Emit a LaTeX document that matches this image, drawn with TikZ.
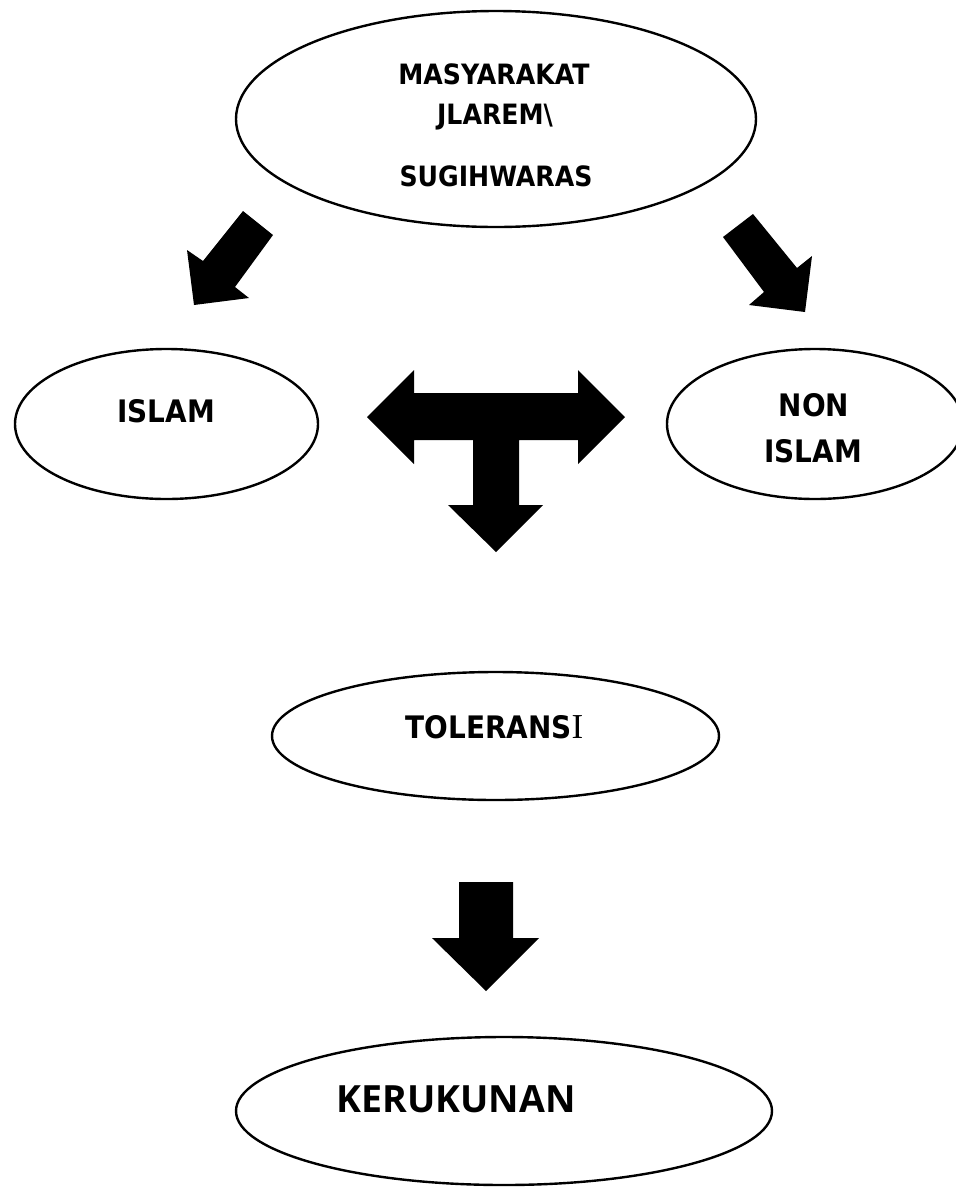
\documentclass[tikz,border=0pt]{standalone}
\usepackage{fontspec}
\newfontfamily\tahfont[FakeStretch=0.9]{DejaVu Sans}
\newfontfamily\opfont{Open Sans}
\newfontfamily\serfont{Liberation Serif}
\usetikzlibrary{shapes.geometric}
\tikzset{
    oval/.style={draw, ellipse, line width=2.4pt, inner sep=0pt},
    teks/.style={anchor=base, inner sep=0pt, font=\tahfont\bfseries\fontsize{31}{36}\selectfont},
    panah/.style={fill=black, draw=none}
}
\begin{document}
\begin{tikzpicture}[x=1pt, y=-1pt]
    \useasboundingbox (0,0) rectangle (956,1187);

    % 1. Elips
    \node[oval, minimum width=520pt, minimum height=216pt] (masy) at (496,119) {};
    \node[oval, minimum width=303pt, minimum height=150pt] (islam) at (166.5,424) {};
    \node[oval, minimum width=296pt, minimum height=150pt] (non) at (815,424) {};
    \node[oval, minimum width=447pt, minimum height=128pt] (tol) at (495.5,736) {};
    \node[oval, minimum width=536pt, minimum height=148pt] (keru) at (504,1111) {};

    % 2. Teks
    \node[teks, font=\tahfont\bfseries\fontsize{28}{34}\selectfont] (masy1) at (494,84) {MASYARAKAT};
    \node[teks, font=\tahfont\bfseries\fontsize{28}{34}\selectfont] (masy2) at (495,124) {JLAREM\textbackslash};
    \node[teks, font=\tahfont\bfseries\fontsize{28}{34}\selectfont] (masy3) at (496,186) {SUGIHWARAS};
    \node[teks] (islamt) at (166,422) {ISLAM};
    \node[teks] (nont1) at (814,416) {NON};
    \node[teks] (nont2) at (813,462) {ISLAM};
    \node[teks] (tolt) at (494.5,738) {TOLERANS{\serfont\mdseries\fontsize{35}{40}\selectfont I}};
    \node[teks, font=\opfont\bfseries\fontsize{37.5}{44}\selectfont] (kerut) at (456,1112) {KERUKUNAN};

    % 3. Panah miring
    \fill[panah] (243,211) -- (273,235) -- (235,287) -- (249,298) -- (194,305)
        -- (187,250) -- (203,261) -- cycle;
    \fill[panah] (753,214) -- (797,268) -- (812,256) -- (805,312) -- (749,305)
        -- (764,292) -- (723,237) -- cycle;

    % 4. Panah T
    \fill[panah] (367,417) -- (414,370) -- (414,393) -- (578,393) -- (578,370)
        -- (625,417) -- (578,464) -- (578,440) -- (519,440) -- (519,505)
        -- (543,505) -- (496,552) -- (448,505) -- (473,505) -- (473,440)
        -- (414,440) -- (414,464) -- cycle;

    % 5. Panah bawah
    \fill[panah] (459,882) -- (513,882) -- (513,938) -- (539,938) -- (486,991)
        -- (432,938) -- (459,938) -- cycle;
\end{tikzpicture}
\end{document}
